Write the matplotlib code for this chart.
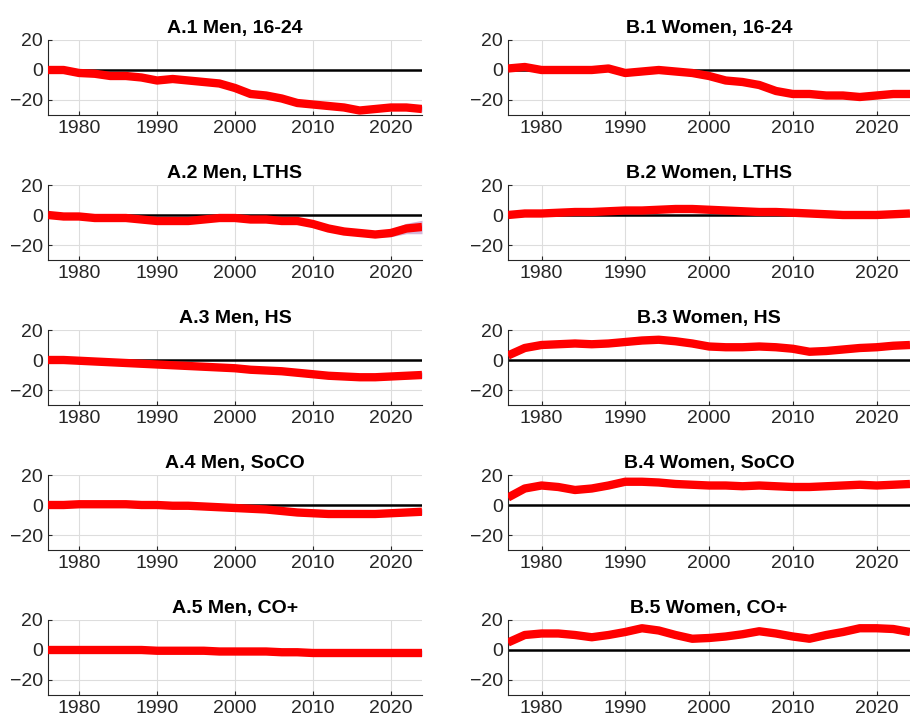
import matplotlib
matplotlib.use("Agg")
import matplotlib.pyplot as plt
import numpy as np

plt.rcParams.update({"font.family": ["Liberation Sans", "DejaVu Sans"], "font.size": 12})

years = list(range(1976, 2025, 2))

titles = ["A.1 Men, 16-24", "B.1 Women, 16-24",
          "A.2 Men, LTHS", "B.2 Women, LTHS",
          "A.3 Men, HS", "B.3 Women, HS",
          "A.4 Men, SoCO", "B.4 Women, SoCO",
          "A.5 Men, CO+", "B.5 Women, CO+"]

men_1624 = [0, 0, -2, -2.5, -4, -4, -5, -7, -6, -7, -8, -9, -12, -16, -17, -19, -22, -23, -24, -25, -27, -26, -25, -25, -26]
women_1624 = [1, 2, 0, 0, 0, 0, 1, -2, -1, 0, -1, -2, -4, -7, -8, -10, -14, -16, -16, -17, -17, -18, -17, -16, -16]
men_lths = [0, -1, -1, -2, -2, -2, -3, -4, -4, -4, -3, -2, -2, -3, -3, -4, -4, -6, -9, -11, -12, -13, -12, -9, -8]
women_lths = [0, 1, 1, 1.5, 2, 2, 2.5, 3, 3, 3.5, 4, 4, 3.5, 3, 2.5, 2, 2, 1.5, 1, 0.5, 0, 0, 0, 0.5, 1]
men_hs = [0, 0, -0.5, -1, -1.5, -2, -2.5, -3, -3.5, -4, -4.5, -5, -5.5, -6.5, -7, -7.5, -8.5, -9.5, -10.5, -11, -11.5, -11.5, -11, -10.5, -10]
women_hs = [3, 8, 10, 10.5, 11, 10.5, 11, 12, 13, 13.5, 12.5, 11, 9, 8.5, 8.5, 9, 8.5, 7.5, 5.5, 6, 7, 8, 8.5, 9.5, 10]
men_soco = [0, 0, 0.5, 0.5, 0.5, 0.5, 0, 0, -0.5, -0.5, -1, -1.5, -2, -2.5, -3, -4, -5, -5.5, -6, -6, -6, -6, -5.5, -5, -4.5]
women_soco = [5, 11, 13, 12, 10, 11, 13, 15.5, 15.5, 15, 14, 13.5, 13, 13, 12.5, 13, 12.5, 12, 12, 12.5, 13, 13.5, 13, 13.5, 14]
men_co = [0, 0, 0, 0, 0, 0, 0, -0.5, -0.5, -0.5, -0.5, -1, -1, -1, -1, -1.5, -1.5, -2, -2, -2, -2, -2, -2, -2, -2]
women_co = [5, 10, 11, 11, 10, 8.5, 10, 12, 14.5, 13, 10, 7.5, 8, 9, 10.5, 12.5, 11, 9, 7.5, 10, 12, 14.5, 14.5, 14, 12]
# half-width of the confidence band
band_men_lths = [1.5, 1.5, 1.5, 1.5, 1.5, 1.5, 1.5, 1.5, 1.5, 1.5, 1.5, 1.5, 1.5, 1.5, 1.5, 1.5, 1.5, 1.5, 1.5, 1.5, 1.5, 2, 2.5, 3.5, 4.5]

series = [men_1624, women_1624, men_lths, women_lths, men_hs, women_hs,
          men_soco, women_soco, men_co, women_co]
bands = [None, None, band_men_lths] + [None] * 7

fig = plt.figure(figsize=(9.1, 7.23), dpi=100)
W, H = 910, 723
for i, (t, y) in enumerate(zip(titles, series)):
    r, c = divmod(i, 2)
    left = 48 if c == 0 else 508
    width = 374 if c == 0 else 402
    top = 40 + r * 145
    ax = fig.add_axes([left / W, 1 - (top + 75) / H, width / W, 75 / H])
    y = np.array(y, float)
    b = np.array(bands[i] if bands[i] else [2.0] * len(y))
    ax.fill_between(years, y - b, y + b, color="#b07ab8", alpha=0.55, lw=0, zorder=2)
    ax.plot(years, y, color="red", lw=6, solid_joinstyle="round",
            solid_capstyle="butt", zorder=3)
    ax.axhline(0, color="black", lw=1.8, zorder=2.5)
    ax.set_xlim(1976, 2024)
    ax.set_ylim(-30, 20)
    ax.set_yticks([-20, 0, 20])
    ax.set_xticks([1980, 1990, 2000, 2010, 2020])
    ax.grid(True, color="#dddddd", lw=0.8)
    ax.set_axisbelow(True)
    for s in ("top", "right"):
        ax.spines[s].set_visible(False)
    for s in ("left", "bottom"):
        ax.spines[s].set_color("#262626")
    ax.tick_params(colors="#262626", labelsize=14, length=3, direction="in")
    ax.set_title(t, fontsize=14, fontweight="bold", pad=5)

fig.savefig("out.png", dpi=100)
